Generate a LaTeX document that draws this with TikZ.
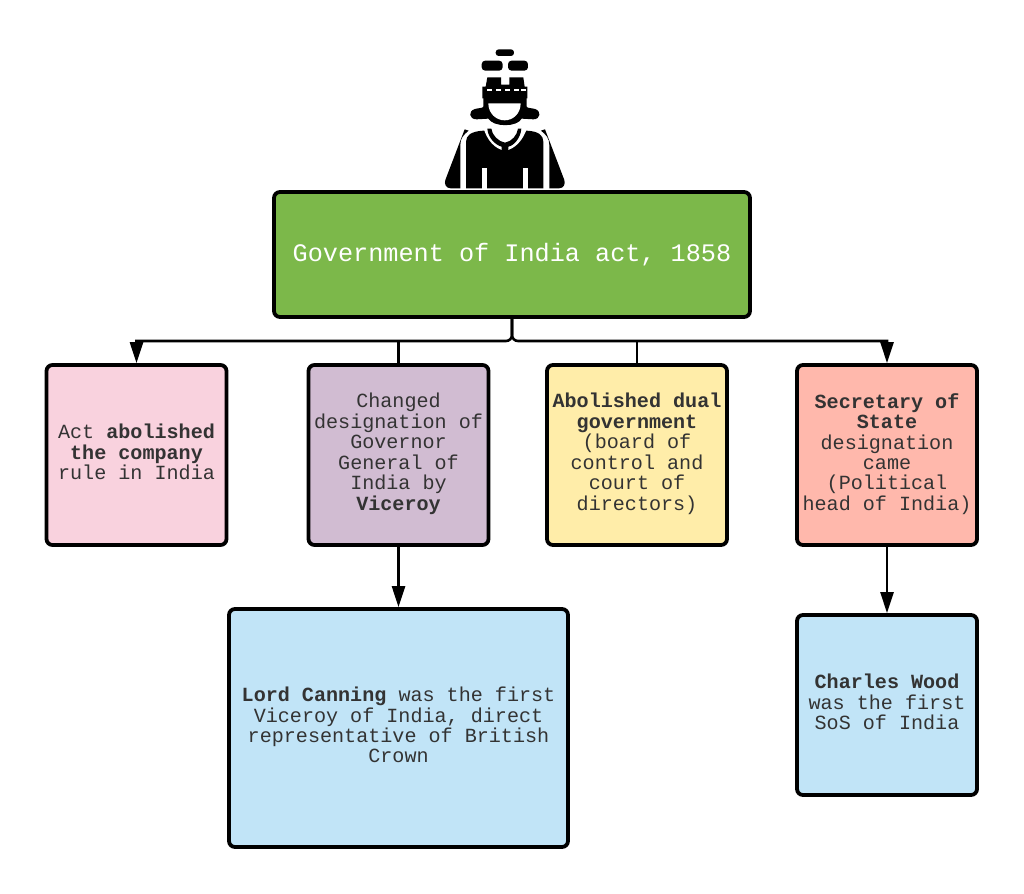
\documentclass[tikz,border=0pt]{standalone}
\usepackage{fontspec}
\setmainfont{Liberation Mono}
\usetikzlibrary{arrows.meta}
\definecolor{cgreen}{HTML}{7CB84A}
\definecolor{cpink}{HTML}{F9D2DE}
\definecolor{cpurple}{HTML}{D1BCD2}
\definecolor{cyellow}{HTML}{FFEDA9}
\definecolor{csalmon}{HTML}{FFB8AC}
\definecolor{cblue}{HTML}{C1E4F7}
\definecolor{ctext}{HTML}{333333}
\newcommand\cardtext[2]{\raisebox{#1}[\height][\depth]{\begin{tabular}{@{}c@{}}#2\end{tabular}}}
\tikzset{
  card/.style={draw=black,line width=3.8pt,rounded corners=6pt,inner sep=0pt,
    text=ctext,font=\fontsize{20.1}{20.2}\selectfont},
  link/.style={draw=black,line width=2.6pt},
  tip/.style={-{Triangle[length=21pt,width=13pt]}},
  ink/.style={fill=black,draw=none},
  gap/.style={fill=white,draw=none}
}
\begin{document}
\begin{tikzpicture}[x=1pt,y=-1pt]
\useasboundingbox (0,0) rectangle (1024,893);
% icon
\begin{scope}[shift={(430,40)},x=0.3333pt,y=-0.3333pt]
\fill[ink,rounded corners=3pt] (197,28) rectangle (252,48);
\fill[ink,rounded corners=3.5pt] (155,62) rectangle (218,92);
\fill[ink,rounded corners=3.5pt] (234,62) rectangle (294,92);
\fill[ink] (172,112) -- (213,112) -- (213,134) -- (238,134) -- (238,112) -- (280,112) -- (284,140) -- (292,140) -- (292,175) -- (157,175) -- (157,140) -- (167,140) -- cycle;
\foreach \a in {170,197,224,251,274}
  \fill[gap] (\a,147) rectangle ++(15,6);
% hair
\fill[ink] (160,170) -- (290,170) -- (290,200) .. controls (292,205) and (305,204) .. (315,207)
  .. controls (335,213) and (332,238) .. (310,238) -- (275,236)
  .. controls (262,262) and (190,262) .. (175,236) -- (140,238)
  .. controls (116,238) and (114,213) .. (135,207)
  .. controls (145,204) and (158,205) .. (160,200) -- cycle;
\fill[gap] (175,190) -- (272,190) .. controls (272,220) and (250,241) .. (224,241) .. controls (198,241) and (175,220) .. (175,190) -- cycle;
% torso
\fill[ink] (108,445) -- (108,305) .. controls (108,285) and (125,274) .. (160,272) -- (290,272)
  .. controls (325,274) and (340,285) .. (340,305) -- (340,445) -- cycle;
\fill[gap] (160,262) .. controls (170,300) and (195,328) .. (225,332) .. controls (255,328) and (280,300) .. (292,262) -- cycle;
\fill[ink] (172,266) -- (184,266) .. controls (186,285) and (205,305) .. (225,308)
  .. controls (245,305) and (262,285) .. (264,266) -- (274,266)
  .. controls (272,295) and (250,318) .. (235,320) -- (235,335) -- (215,335) -- (215,320)
  .. controls (198,316) and (174,295) .. (172,266) -- cycle;
\fill[gap] (155,385) rectangle (170,446);
\fill[gap] (278,385) rectangle (293,446);
% cloak
\fill[ink] (104,268) -- (116,272) .. controls (100,285) and (91,295) .. (91,315) -- (91,445) -- (62,445)
  .. controls (48,445) and (42,432) .. (46,420) -- cycle;
\fill[ink] (345,268) -- (333,272) .. controls (349,285) and (358,295) .. (358,315) -- (358,445) -- (387,445)
  .. controls (401,445) and (407,432) .. (403,420) -- cycle;
\end{scope}
% boxes
\node[card,fill=cgreen,text=white,minimum width=476pt,minimum height=125pt,font=\fontsize{25.2}{26}\selectfont] (title) at (512,254.5) {\cardtext{-2pt}{Government of India act, 1858}};
\node[card,fill=cpink,minimum width=180pt,minimum height=180pt] (pink) at (136.5,455) {\cardtext{0pt}{Act \textbf{abolished}\\\textbf{the company}\\rule in India}};
\node[card,fill=cpurple,minimum width=180pt,minimum height=180pt] (purple) at (398.5,455) {\cardtext{0pt}{Changed\\designation of\\Governor\\General of\\India by\\\textbf{Viceroy}}};
\node[card,fill=cyellow,minimum width=180pt,minimum height=180pt] (yellow) at (637,455) {\cardtext{0pt}{\textbf{Abolished dual}\\\textbf{government}\\(board of\\control and\\court of\\directors)}};
\node[card,fill=csalmon,minimum width=180pt,minimum height=180pt] (salmon) at (887,455) {\cardtext{0pt}{\textbf{Secretary of}\\\textbf{State}\\designation\\came\\(Political\\head of India)}};
\node[card,fill=cblue,minimum width=339pt,minimum height=238pt] (canning) at (398.5,728) {\cardtext{0pt}{\textbf{Lord Canning} was the first\\Viceroy of India, direct\\representative of British\\Crown}};
\node[card,fill=cblue,minimum width=180pt,minimum height=180pt] (wood) at (887,705) {\cardtext{0pt}{\textbf{Charles Wood}\\was the first\\SoS of India}};
% connectors
\coordinate (bus) at (512,341);
\draw[link,tip,rounded corners=6pt] (title.south) -- (bus) [sharp corners] -- (bus -| pink.north) -- (pink.north);
\draw[link,tip,rounded corners=6pt] (title.south) -- (bus) [sharp corners] -- (bus -| salmon.north) -- (salmon.north);
\draw[link] (bus -| purple.north) -- (purple.north);
\draw[link] (bus -| yellow.north) -- (yellow.north);
\draw[link,tip] (purple.south) -- (canning.north);
\draw[link,tip] (salmon.south) -- (wood.north);
\end{tikzpicture}
\end{document}
